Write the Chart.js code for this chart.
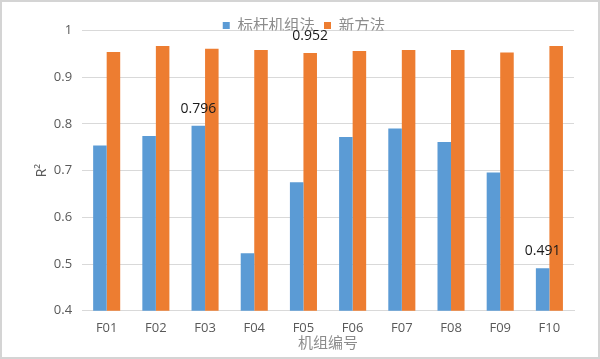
<!DOCTYPE html>
<html>
<head>
<meta charset="utf-8">
<script src="https://cdn.jsdelivr.net/npm/chart.js@4.4.0/dist/chart.umd.min.js"></script>
<style>
  html, body { margin: 0; padding: 0; background: #fff; }
  #wrap { position: relative; width: 600px; height: 359px; box-sizing: border-box; border: 2px solid #d4d4d4; }
  canvas { display: block; }
</style>
</head>
<body>
<div id="wrap"><canvas id="grafico" width="596" height="355"></canvas></div>
<script>
// categorias y valores
const categorias = ['F01', 'F02', 'F03', 'F04', 'F05', 'F06', 'F07', 'F08', 'F09', 'F10'];
const biaogan = [0.754, 0.774, 0.796, 0.523, 0.675, 0.772, 0.790, 0.761, 0.696, 0.491];
const xinfangfa = [0.954, 0.967, 0.961, 0.958, 0.952, 0.956, 0.958, 0.958, 0.953, 0.967];
const yTicks = [0.4, 0.5, 0.6, 0.7, 0.8, 0.9, 1];

// etiquetas de valor que aparecen en la imagen: [serie, indice]
const etiquetas = [[1, 4], [0, 2], [0, 9]];

const etiquetasPlugin = {
    id: 'etiquetas',
    afterInit(chart) {
        // la leyenda del original se monta sobre el area del grafico
        const legend = chart.legend;
        const fitOrig = legend.fit.bind(legend);
        legend.fit = function () {
            fitOrig();
            this.height = 21.75;
        };
    },
    afterDatasetsDraw(chart) {
        const ctx = chart.ctx;
        ctx.save();
        ctx.font = '14px "Open Sans", "Noto Sans", sans-serif';
        ctx.fillStyle = '#1a1a1a';
        ctx.textAlign = 'center';
        ctx.textBaseline = 'alphabetic';
        etiquetas.forEach(([ds, i]) => {
            const bar = chart.getDatasetMeta(ds).data[i];
            const val = chart.data.datasets[ds].data[i];
            ctx.fillText(val.toFixed(3), bar.x, bar.y - 13);
        });
        ctx.restore();
    }
};

const ctx = document.getElementById('grafico').getContext('2d');
new Chart(ctx, {
    type: 'bar',
    data: {
        labels: categorias,
        datasets: [
            {
                label: '标杆机组法',
                data: biaogan,
                backgroundColor: '#5B9BD5',
                categoryPercentage: 0.55,
                barPercentage: 1
            },
            {
                label: '新方法',
                data: xinfangfa,
                backgroundColor: '#ED7D31',
                categoryPercentage: 0.55,
                barPercentage: 1
            }
        ]
    },
    options: {
        responsive: false,
        animation: false,
        layout: { padding: { left: 32, right: 24, top: 6.75, bottom: 7 } },
        plugins: {
            legend: {
                position: 'top',
                labels: {
                    boxWidth: 7,
                    boxHeight: 7,
                    padding: 9,
                    color: '#8c8c8c',
                    font: { size: 15.5, family: '"Noto Sans CJK SC", sans-serif' }
                }
            },
            tooltip: { enabled: false }
        },
        scales: {
            y: {
                min: 0.4,
                max: 1,
                afterBuildTicks: axis => { axis.ticks = yTicks.map(v => ({ value: v })); },
                ticks: {
                    color: '#595959',
                    padding: 10,
                    font: { size: 13, family: '"Open Sans", sans-serif' },
                    callback: v => String(v)
                },
                grid: { color: '#d9d9d9', drawTicks: false },
                border: { display: false },
                title: {
                    display: true,
                    text: 'R²',
                    color: '#595959',
                    padding: { top: 0, bottom: -7 },
                    font: { size: 14, family: '"Open Sans", sans-serif' }
                }
            },
            x: {
                ticks: {
                    color: '#595959',
                    padding: 2,
                    maxRotation: 0,
                    font: { size: 13, lineHeight: 1.1, family: '"Open Sans", sans-serif' }
                },
                grid: { display: false },
                border: { color: '#d9d9d9' },
                title: {
                    display: true,
                    text: '机组编号',
                    color: '#8c8c8c',
                    padding: { top: -2, bottom: 0 },
                    font: { size: 15, lineHeight: 1, family: '"Noto Sans CJK SC", sans-serif' }
                }
            }
        }
    },
    plugins: [etiquetasPlugin]
});
</script>
</body>
</html>
